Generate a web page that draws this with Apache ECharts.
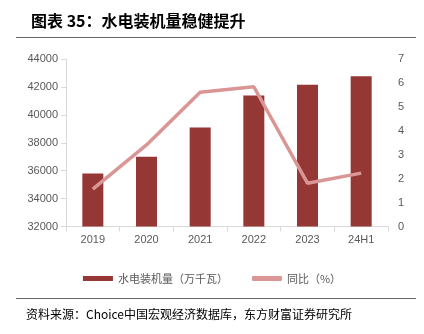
<!DOCTYPE html>
<html><head><meta charset="utf-8">
<script src="https://cdn.jsdelivr.net/npm/echarts@6/dist/echarts.min.js"></script>
<style>html,body{margin:0;padding:0;background:#fff;}#c{width:424px;height:334px;}</style>
</head><body><div id="c"></div>
<script>
var categories = ['2019','2020','2021','2022','2023','24H1'];
var capacity = [35800, 37000, 39100, 41380, 42160, 42760];
var yoy = [1.56, 3.41, 5.61, 5.84, 1.81, 2.23];
var leftTicks = [32000, 44000, 2000];
var rightTicks = [0, 7, 1];

var chart = echarts.init(document.getElementById('c'), null, {renderer:'canvas'});
var font = '"Liberation Sans", Arial, sans-serif';
var cjk = '"Noto Sans CJK SC", sans-serif';
chart.setOption({
  animation:false,
  backgroundColor:'#fff',
  title:{text:'图表 35：水电装机量稳健提升', left:26, top:8,
    textStyle:{fontFamily:cjk, fontSize:16, fontWeight:'bold', color:'#000'}},
  graphic:[
    {type:'line', shape:{x1:16,y1:37.5,x2:416,y2:37.5}, style:{stroke:'#666',lineWidth:1.2}},
    {type:'line', shape:{x1:16,y1:298.5,x2:416,y2:298.5}, style:{stroke:'#666',lineWidth:1.2}},
    {type:'text', left:26, top:308, style:{text:'资料来源：Choice中国宏观经济数据库，东方财富证券研究所', fontFamily:cjk, fontSize:12, fill:'#000'}}
  ],
  grid:{left:66, right:36, top:59, bottom:107.5},
  legend:{bottom:45, left:'center', itemGap:24, itemWidth:30, itemHeight:5,
    textStyle:{fontFamily:cjk, fontSize:11, color:'#595959'},
    data:[{name:'水电装机量（万千瓦）', icon:'rect'},{name:'同比（%）', icon:'roundRect'}]},
  xAxis:{type:'category', data:categories,
    axisLine:{lineStyle:{color:'#d9d9d9'}},
    axisTick:{show:true, lineStyle:{color:'#d9d9d9'}},
    axisLabel:{color:'#595959', fontFamily:font, fontSize:11, margin:8}},
  yAxis:[
    {type:'value', min:leftTicks[0], max:leftTicks[1], interval:leftTicks[2],
      axisLine:{show:true, lineStyle:{color:'#d9d9d9'}},
      axisTick:{show:true, lineStyle:{color:'#d9d9d9'}},
      splitLine:{show:false},
      axisLabel:{color:'#595959', fontFamily:font, fontSize:11, margin:8, formatter:function(v){return String(v);}}},
    {type:'value', min:rightTicks[0], max:rightTicks[1], interval:rightTicks[2],
      axisLine:{show:false}, axisTick:{show:false}, splitLine:{show:false},
      axisLabel:{color:'#595959', fontFamily:font, fontSize:11, margin:10}}
  ],
  series:[
    {name:'水电装机量（万千瓦）', type:'bar', data:capacity, barWidth:21,
      itemStyle:{color:'#953735'}},
    {name:'同比（%）', type:'line', yAxisIndex:1, data:yoy, symbol:'none',
      lineStyle:{color:'#d99694', width:3.5}, itemStyle:{color:'#d99694'}}
  ]
});
</script></body></html>
